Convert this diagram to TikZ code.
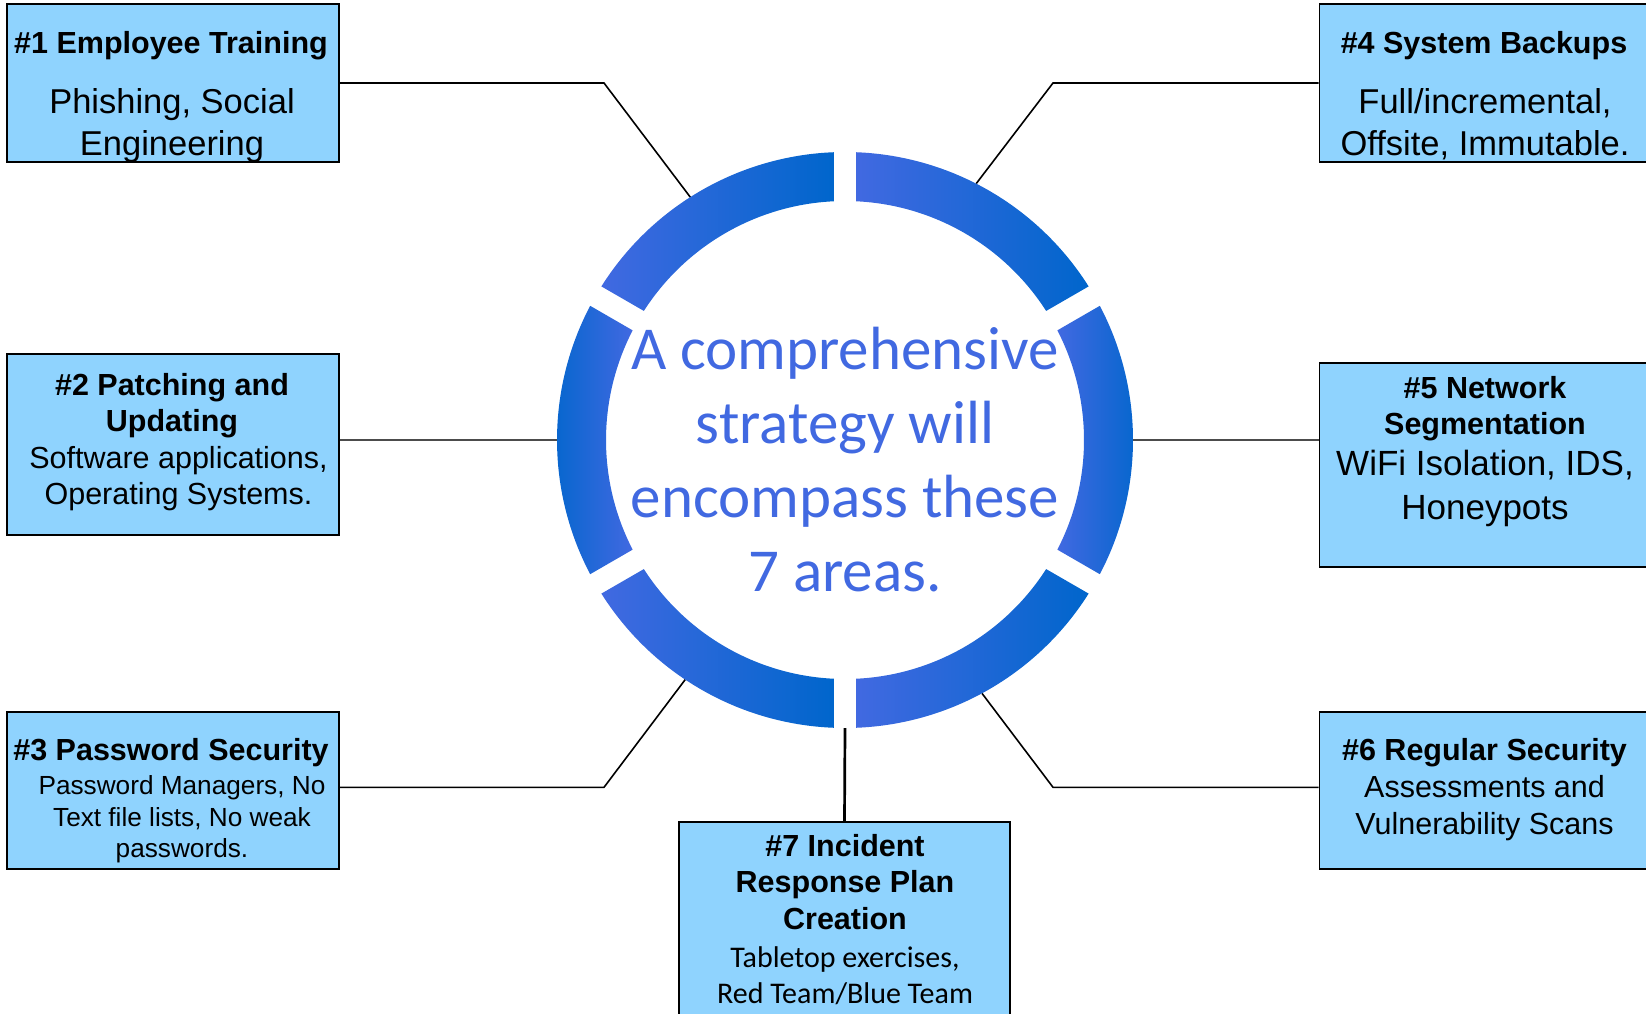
\documentclass[tikz,border=0pt]{standalone}
\usepackage{fontspec}
\setmainfont{Liberation Sans}
\newfontfamily\calibrifont{Carlito}
\usetikzlibrary{calc}
\definecolor{boxfill}{RGB}{143,211,254}
\definecolor{ringlight}{RGB}{65,105,225}
\definecolor{ringdark}{RGB}{0,102,204}
\begin{document}
\begin{tikzpicture}[x=1pt,y=1pt,
  box/.style={draw=black, line width=1.8pt, fill=boxfill, inner sep=0pt},
  link/.style={draw=black, line width=1.6pt},
  thinlink/.style={draw=black!70, line width=1.1pt},
  stemlink/.style={draw=black, line width=2.7pt},
  % multi-line nodes are anchored at the baseline of their last line
  title/.style={font=\fontsize{30.5}{36.5}\selectfont\bfseries, align=center, anchor=base, inner sep=0pt},
  body/.style={font=\fontsize{30.5}{36.5}\selectfont, align=center, anchor=base, inner sep=0pt},
  bigbody/.style={font=\fontsize{34.5}{41.5}\selectfont, align=center, anchor=base, inner sep=0pt},
  smallbody/.style={font=\fontsize{26.2}{31.5}\selectfont, align=center, anchor=base, inner sep=0pt},
  centertext/.style={font=\calibrifont\fontsize{61}{73.8}\selectfont, text=ringlight, align=center, anchor=base, inner sep=0pt}
]
\useasboundingbox (0,0) rectangle (1646,-1014);
\begin{scope}
\clip (0,0) rectangle (1646,-1014);

% centre of the ring and attachment points on its outer edge
\coordinate (O) at (845,-440);
\coordinate (r1) at ($(O)+(122.5:288)$);
\coordinate (r2) at ($(O)+(180:288)$);
\coordinate (r3) at ($(O)+(236.3:288)$);
\coordinate (r4) at ($(O)+(62.9:288)$);
\coordinate (r5) at ($(O)+(0:288)$);
\coordinate (r6) at ($(O)+(-61.6:288)$);
\coordinate (r7) at ($(O)+(270:288)$);

% knees of the angled connectors
\coordinate (k1) at (604,-83);
\coordinate (k3) at (604,-787.3);
\coordinate (k4) at (1053,-83);
\coordinate (k6) at (1053,-787.3);

% boxes
\node[box, minimum width=332pt, minimum height=158pt] (b1) at (173,-83) {};
\node[box, minimum width=332pt, minimum height=181.6pt] (b2) at (173,-444.5) {};
\node[box, minimum width=332pt, minimum height=157.5pt] (b3) at (173,-790.5) {};
\node[box, minimum width=331.5pt, minimum height=158pt] (b4) at (1485.25,-83) {};
\node[box, minimum width=331.5pt, minimum height=203.6pt] (b5) at (1485.25,-465) {};
\node[box, minimum width=331.5pt, minimum height=157.5pt] (b6) at (1485.25,-790.5) {};
\node[box, minimum width=331pt, minimum height=218.3pt] (b7) at (844.5,-930.85) {};

% connectors
\draw[link] (b1.east) -- (k1) -- (r1);
\draw[thinlink] (b2.east |- O) -- (r2);
\draw[link] (b3.east |- k3) -- (k3) -- (r3);
\draw[link] (b4.west) -- (k4) -- (r4);
\draw[thinlink] (r5) -- (b5.west |- O);
\draw[link] (b6.west |- k6) -- (k6) -- (r6);
\draw[stemlink] (r7) -- (b7.north);

% ring of six gradient segments separated by straight gaps
\foreach \a/\lc/\rc in {30/ringlight/ringdark, 90/ringlight/ringdark,
  150/ringdark/ringlight, 210/ringlight/ringdark,
  270/ringlight/ringdark, 330/ringlight/ringdark}{
  \pgfmathsetmacro{\oa}{\a+2.23}
  \pgfmathsetmacro{\ob}{\a+60-2.23}
  \pgfmathsetmacro{\ia}{\a+2.69}
  \pgfmathsetmacro{\ib}{\a+60-2.69}
  \shade[left color=\lc, right color=\rc]
    ($(O)+(\oa:288)$) arc[start angle=\oa, end angle=\ob, radius=288]
    -- ($(O)+(\ib:239)$) arc[start angle=\ib, end angle=\ia, radius=239] -- cycle;
}

% centre statement
\node[centertext] (ctext) at (845,-591) {A comprehensive\\strategy will\\encompass these\\7 areas.};

% box texts
\node[title] (t1) at (171,-54) {\#1 Employee Training};
\node[bigbody] (d1) at (172,-155) {Phishing, Social\\Engineering};

\node[title, font=\fontsize{30.5}{35.7}\selectfont\bfseries] (t2) at (172,-431.4) {\#2 Patching and\\Updating};
\node[body] (d2) at (178.5,-504.9) {Software applications,\\Operating Systems.};

\node[title] (t3) at (171,-760) {\#3 Password Security};
\node[smallbody] (d3) at (182,-857.6) {Password Managers, No\\Text file lists, No weak\\passwords.};

\node[title] (t4) at (1484,-54) {\#4 System Backups};
\node[bigbody] (d4) at (1485,-155) {Full/incremental,\\Offsite, Immutable.};

\node[title, font=\fontsize{30.5}{36.6}\selectfont\bfseries] (t5) at (1485,-434.6) {\#5 Network\\Segmentation};
\node[bigbody, font=\fontsize{35}{44}\selectfont] (d5) at (1485,-519.6) {WiFi Isolation, IDS,\\Honeypots};

\node[title] (t6) at (1484.5,-760) {\#6 Regular Security};
\node[body, font=\fontsize{30.5}{37}\selectfont] (d6) at (1484.5,-834) {Assessments and\\Vulnerability Scans};

\node[title, font=\fontsize{30.5}{36.75}\selectfont\bfseries] (t7) at (845,-929.5) {\#7 Incident\\Response Plan\\Creation};
\node[body, font=\calibrifont\fontsize{30}{36.5}\selectfont] (d7) at (845,-1003.5) {Tabletop exercises,\\Red Team/Blue Team};
\end{scope}
\end{tikzpicture}
\end{document}
